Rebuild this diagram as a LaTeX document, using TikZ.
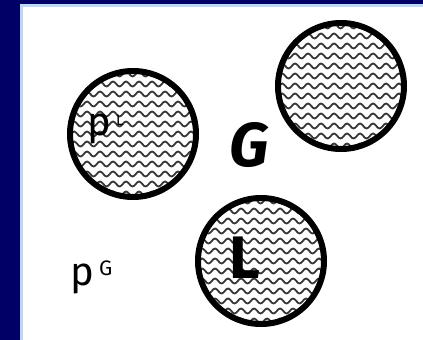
\documentclass[tikz,border=0pt]{standalone}
\usepackage{fontspec}
\setmainfont{Fira Sans}
\usetikzlibrary{decorations.pathmorphing}
\definecolor{navy}{RGB}{0,0,102}
\definecolor{edgeblue}{RGB}{190,215,245}
\definecolor{wavegray}{RGB}{55,55,55}
\begin{document}
\begin{tikzpicture}[x=1pt,y=-1pt,
  drop/.style={circle,draw=black,line width=6pt,minimum size=126pt,inner sep=0pt,
    path picture={\foreach \k in {-7,...,7}{\draw[wavegray,line width=1.8pt,decorate,decoration={snake,segment length=13pt,amplitude=2.5pt}] ([yshift=\k*10pt]path picture bounding box.west) -- ([yshift=\k*10pt]path picture bounding box.east);}}},
  lbl/.style={inner sep=0pt,anchor=base west}]
\useasboundingbox (0,0) rectangle (423,340);
\fill[navy] (0,0) rectangle (423,340);
\fill[edgeblue] (20,4) rectangle (423,340);
\fill[white] (23,7) rectangle (423,340);
\node[drop] (cl) at (133,134) {};
\node[drop] (cg) at (341,86) {};
\node[drop] (cL) at (261,261) {};
\node[lbl,font=\fontsize{40}{40}\selectfont] (p1) at (87,135) {p};
\node[lbl,font=\fontsize{15}{15}\selectfont] (s1) at (116,125) {L};
\node[lbl,font=\fontsize{62}{62}\selectfont\bfseries\itshape] (g) at (229,166) {G};
\node[lbl,font=\fontsize{40}{40}\selectfont] (p2) at (70,285) {p};
\node[lbl,font=\fontsize{21}{21}\selectfont] (s2) at (99,275) {G};
\node[lbl,font=\fontsize{60}{60}\selectfont\bfseries] (l) at (229,278) {L};
\end{tikzpicture}
\end{document}
